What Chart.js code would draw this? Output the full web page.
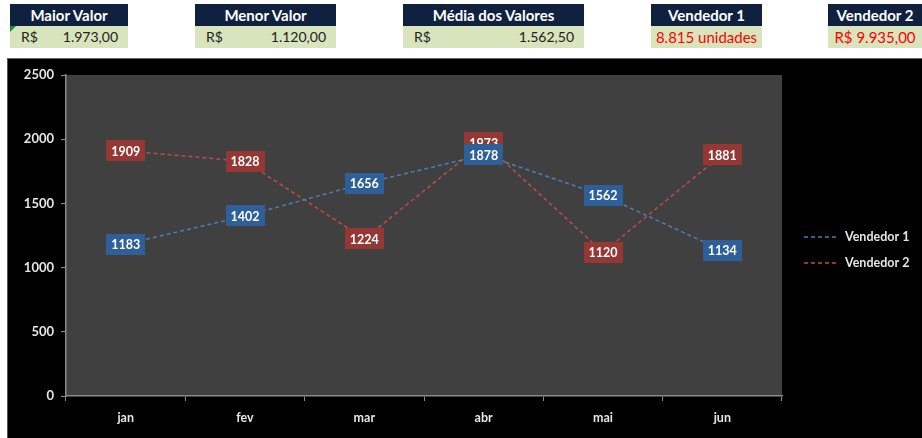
<!DOCTYPE html>
<html>
<head>
<meta charset="utf-8">
<script src="https://cdn.jsdelivr.net/npm/chart.js@4"></script>
<style>
  body { margin: 0; background: #fff; font-family: Lato, "Open Sans", sans-serif; overflow: hidden; }
  .card { position: absolute; top: 4px; }
  .card .hd { height: 22px; line-height: 23px; background: #0f213f; color: #fff; text-align: center; font-size: 15px; font-weight: bold; white-space: nowrap; }
  .card .val { height: 22px; line-height: 22px; background: #d8e4bc; color: #222; font-size: 14px; padding: 0 10px 0 11px; display: flex; justify-content: space-between; position: relative; white-space: nowrap; }
  .card .val.red { color: #ff0000; justify-content: center; font-size: 15px; padding: 0; }
  .tri { position: absolute; left: 0; top: 0; width: 0; height: 0; border-top: 6px solid #1e8a2e; border-right: 6px solid transparent; }
  #panel { position: absolute; left: 7px; top: 58px; width: 915px; height: 380px; background: #000; border-top: 1px solid #666; border-left: 1px solid #555; }
  #wrap { position: absolute; left: 0; top: 0; width: 915px; height: 379px; }
</style>
</head>
<body>
<div class="card" style="left:10px;width:118px"><div class="hd">Maior Valor</div><div class="val"><span class="tri"></span><span>R$</span><span id="vMax"></span></div></div>
<div class="card" style="left:195px;width:141px"><div class="hd">Menor Valor</div><div class="val"><span>R$</span><span id="vMin"></span></div></div>
<div class="card" style="left:403px;width:181px"><div class="hd">Média dos Valores</div><div class="val"><span>R$</span><span id="vAvg"></span></div></div>
<div class="card" style="left:651px;width:111px"><div class="hd">Vendedor 1</div><div class="val red"><span id="vV1"></span></div></div>
<div class="card" style="left:828px;width:94px"><div class="hd">Vendedor 2</div><div class="val red"><span id="vV2"></span></div></div>

<div id="panel"><div id="wrap"><canvas id="chart"></canvas></div></div>

<script>
const months = ['jan', 'fev', 'mar', 'abr', 'mai', 'jun']
const vendedor1 = [1183, 1402, 1656, 1878, 1562, 1134]
const vendedor2 = [1909, 1828, 1224, 1973, 1120, 1881]
const yTicks = [0, 500, 1000, 1500, 2000, 2500]

const lineBlue = '#4a7ebb'
const lineRed = '#be4b48'
const boxBlue = '#2f5f98'
const boxRed = '#953735'

// header cards
const all = vendedor1.concat(vendedor2)
const sum = (a) => a.reduce((s, v) => s + v, 0)
const fmt = (v, d) => v.toLocaleString('pt-BR', { minimumFractionDigits: d, maximumFractionDigits: d })
document.getElementById('vMax').textContent = fmt(Math.max(...all), 2)
document.getElementById('vMin').textContent = fmt(Math.min(...all), 2)
document.getElementById('vAvg').textContent = fmt(sum(all) / all.length, 2)
document.getElementById('vV1').textContent = fmt(sum(vendedor1), 0) + ' unidades'
document.getElementById('vV2').textContent = 'R$ ' + fmt(sum(vendedor2), 2)

const plotBg = {
	id: 'plotBg',
	beforeDraw(chart) {
		const { ctx, chartArea: a } = chart
		ctx.save()
		ctx.fillStyle = '#404040'
		ctx.fillRect(a.left, a.top, a.right - a.left, a.bottom - a.top)
		ctx.restore()
	},
}

const boxLabels = {
	id: 'boxLabels',
	afterDatasetsDraw(chart) {
		const ctx = chart.ctx
		ctx.save()
		ctx.font = 'bold 12.5px Lato'
		ctx.textAlign = 'center'
		ctx.textBaseline = 'middle'
		for (let d = chart.data.datasets.length - 1; d >= 0; d--) {
			const ds = chart.data.datasets[d]
			chart.getDatasetMeta(d).data.forEach((pt, i) => {
				const txt = String(ds.data[i])
				const w = ctx.measureText(txt).width + 10
				const h = 21
				ctx.fillStyle = ds.boxColor
				ctx.fillRect(Math.round(pt.x - w / 2), Math.round(pt.y - h / 2), Math.round(w), h)
				ctx.fillStyle = '#fff'
				ctx.fillText(txt, pt.x, pt.y + 1)
			})
		}
		ctx.restore()
	},
}

const sideLegend = {
	id: 'sideLegend',
	afterDraw(chart) {
		const ctx = chart.ctx
		ctx.save()
		ctx.font = 'bold 12.5px Lato'
		ctx.textBaseline = 'middle'
		chart.data.datasets.forEach((ds, i) => {
			const y = 178 + i * 26
			ctx.strokeStyle = ds.borderColor
			ctx.lineWidth = 1.5
			ctx.setLineDash([4, 3])
			ctx.beginPath()
			ctx.moveTo(796, y)
			ctx.lineTo(829, y)
			ctx.stroke()
			ctx.setLineDash([])
			ctx.fillStyle = '#e6e6e6'
			ctx.fillText(ds.label, 837, y)
		})
		ctx.restore()
	},
}

new Chart(document.getElementById('chart'), {
	type: 'line',
	data: {
		labels: months,
		datasets: [
			{ label: 'Vendedor 1', data: vendedor1, borderColor: lineBlue, boxColor: boxBlue },
			{ label: 'Vendedor 2', data: vendedor2, borderColor: lineRed, boxColor: boxRed },
		].map((ds) => ({ ...ds, borderWidth: 1.5, borderDash: [4, 3], pointRadius: 0, tension: 0, fill: false })),
	},
	options: {
		responsive: true,
		maintainAspectRatio: false,
		animation: false,
		layout: { padding: { top: 16, right: 141, left: 0, bottom: 0 } },
		plugins: { legend: { display: false }, tooltip: { enabled: false } },
		scales: {
			x: {
				offset: true,
				grid: { offset: true, drawOnChartArea: false, tickLength: 5, color: '#8a8a8a' },
				border: { color: '#8a8a8a', width: 1.5 },
				ticks: { color: '#e6e6e6', font: { family: 'Lato', size: 12.5, weight: 'bold' }, padding: 9, maxRotation: 0 },
				afterFit: (s) => { s.height = 42 },
			},
			y: {
				min: 0,
				max: 2500,
				afterBuildTicks: (s) => { s.ticks = yTicks.map((v) => ({ value: v })) },
				grid: { drawOnChartArea: false, tickLength: 5, color: '#8a8a8a' },
				border: { color: '#8a8a8a', width: 1.5 },
				ticks: { color: '#e6e6e6', font: { family: 'Lato', size: 13, weight: 'bold' }, padding: 7, callback: (v) => String(v) },
				afterFit: (s) => { s.width = 58 },
			},
		},
	},
	plugins: [plotBg, boxLabels, sideLegend],
})
</script>
</body>
</html>
